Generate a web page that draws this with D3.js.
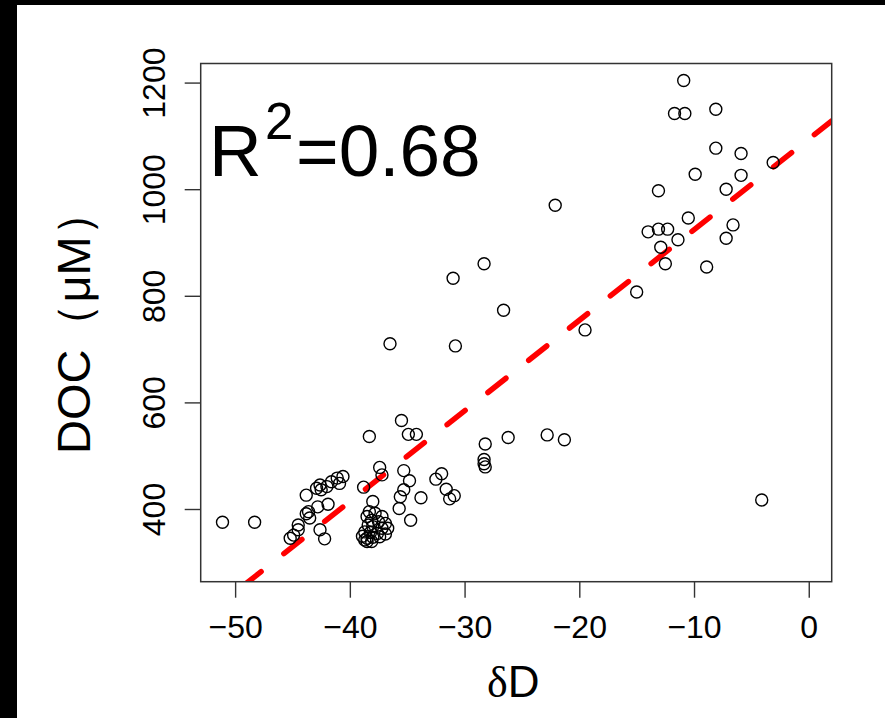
<!DOCTYPE html>
<html><head><meta charset="utf-8">
<script src="https://cdn.jsdelivr.net/npm/d3@7"></script>
<style>body{margin:0;background:#fff}svg{display:block}text{font-family:"Liberation Sans",Arial,sans-serif;fill:#000}</style>
</head><body>
<svg id="chart" width="885" height="718"></svg>
<script>
// δD (‰) values of each sample
const deltaD = [
 -10.9,-11.7,-10.8,-8.1,-8.1,-5.9,-3.1,-9.9,-5.9,-13.1,-7.2,-10.5,-14.0,-13.1,-12.3,-11.4,-6.6,-7.2,-12.9,-12.5,-8.9,-15.0,
 -22.1,-28.3,-31.0,-26.6,-19.5,-36.5,-30.8,-4.1,
 -51.1,-48.3,
 -40.6,-41.1,-40.9,-41.6,-42.0,-42.6,-42.9,-42.5,-43.8,-41.9,-42.8,-43.6,-43.8,-43.5,-44.5,-44.5,-44.9,-45.2,-42.6,-42.2,
 -38.3,-37.4,-37.2,-38.8,-38.0,
 -38.3,-37.8,-37.2,-38.5,-38.1,-37.5,-36.9,-38.4,-38.0,-37.2,-36.7,-38.7,-38.2,-37.6,-36.9,-38.9,-38.5,-38.0,-37.4,-38.5,-38.1,-38.7,
 -35.5,-34.9,-34.2,-35.3,-34.8,-35.3,-35.6,-33.8,-35.7,-34.7,-32.5,-32.0,-31.6,-31.3,-30.9,-28.2,-28.3,-28.3,-28.2,-26.2,-22.8,-21.3
];
// DOC (μM) values of each sample
const doc = [
 1204,1142,1142,1150,1077,1067,1050,1028,1026,997,1000,946,920,925,925,905,933,908,891,860,854,807,
 970,860,833,773,736,710,706,417,
 375,375,
 461,458,448,451,442,445,439,436,426,409,404,395,391,383,370,361,351,345,361,344,
 536,478,464,441,414,
 395,392,386,386,379,376,373,370,367,364,364,357,356,354,353,349,345,347,348,339,339,342,
 566,540,540,472,453,436,423,421,401,379,456,466,437,419,425,522,493,485,479,534,539,530
];
const xTicks = [-50,-40,-30,-20,-10,0];
const yTicks = [400,600,800,1000,1200];
const xDomain = [-53, 2];
const yDomain = [263.6, 1235.8];
const fitIntercept = 1094;
const fitSlope = 17.0;
const r2Value = "0.68";

const svg = d3.select("#chart");
// black frame on top and left of the picture
svg.append("rect").attr("x",0).attr("y",0).attr("width",885).attr("height",5).attr("fill","#000");
svg.append("rect").attr("x",0).attr("y",0).attr("width",17).attr("height",718).attr("fill","#000");

const L=200.7, R=831.7, T=63.5, B=581.7;
const x = d3.scaleLinear().domain(xDomain).range([L,R]);
const y = d3.scaleLinear().domain(yDomain).range([B,T]);

svg.append("clipPath").attr("id","clip").append("rect")
  .attr("x",L).attr("y",T).attr("width",R-L).attr("height",B-T);

// axes
const gx = svg.append("g").attr("transform",`translate(0,${B})`)
  .call(d3.axisBottom(x).tickValues(xTicks).tickSize(16).tickFormat(d3.format("d")));
gx.select(".domain").remove();
gx.selectAll(".tick line").attr("stroke","#333").attr("stroke-width",1.4);
gx.selectAll(".tick text").attr("y",56.8).attr("dy",0).attr("font-size",32)
  .attr("font-family",'"Liberation Sans",Arial,sans-serif').attr("fill","#000");

const gy = svg.append("g").attr("transform",`translate(${L},0)`)
  .call(d3.axisLeft(y).tickValues(yTicks).tickSize(16).tickFormat(d3.format("d")));
gy.select(".domain").remove();
gy.selectAll(".tick line").attr("stroke","#333").attr("stroke-width",1.4);
gy.selectAll(".tick text").attr("transform","rotate(-90)").attr("x",0).attr("y",-35.7)
  .attr("dy",0).attr("text-anchor","middle").attr("font-size",32)
  .attr("font-family",'"Liberation Sans",Arial,sans-serif').attr("fill","#000");

// regression line
const line = d3.line().x(d=>x(d)).y(d=>y(fitIntercept+fitSlope*d));
svg.append("path").datum(xDomain).attr("d",line).attr("clip-path","url(#clip)")
  .attr("fill","none").attr("stroke","#ff0000").attr("stroke-width",5.5)
  .attr("stroke-linecap","round").attr("stroke-dasharray","23,29").attr("stroke-dashoffset",50);

// points
svg.append("g").selectAll("circle").data(deltaD.map((d,i)=>[d,doc[i]])).join("circle")
  .attr("cx",d=>x(d[0])).attr("cy",d=>y(d[1])).attr("r",6)
  .attr("fill","none").attr("stroke","#000").attr("stroke-width",1.4);

// box
svg.append("rect").attr("x",L).attr("y",T).attr("width",R-L).attr("height",B-T)
  .attr("fill","none").attr("stroke","#333").attr("stroke-width",1.5);

// R² annotation
const t = svg.append("text").attr("font-size",73);
t.append("tspan").attr("x",209).attr("y",176).text("R");
t.append("tspan").attr("x",265).attr("y",138.5).attr("font-size",51).text("2");
t.append("tspan").attr("x",296).attr("y",176).text("=" + r2Value);

// axis titles
const xt = svg.append("text").attr("x",(L+R)/2-3).attr("y",697).attr("text-anchor","middle").attr("font-size",44);
xt.append("tspan").attr("font-family",'"Liberation Serif","DejaVu Serif",serif').text("δ");
xt.append("tspan").text("D");

svg.append("text").attr("transform",`translate(90,${(T+B)/2 - 1}) rotate(-90)`)
  .attr("text-anchor","middle").attr("font-size",47)
  .attr("font-family",'"Liberation Sans","Noto Sans CJK SC",sans-serif')
  .text("DOC（μM）");
</script>
</body></html>
